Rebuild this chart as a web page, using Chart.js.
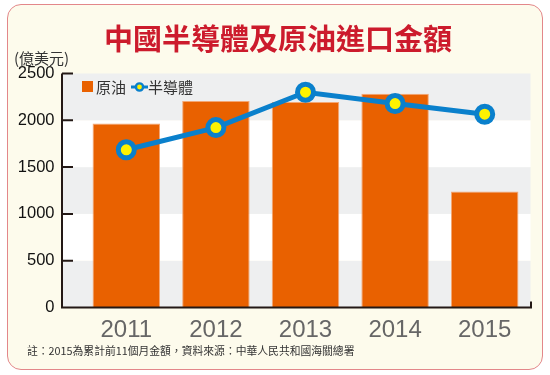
<!DOCTYPE html>
<html>
<head>
<meta charset="utf-8">
<script src="https://cdn.jsdelivr.net/npm/chart.js@4.4.0/dist/chart.umd.min.js"></script>
<style>
  html, body { margin: 0; padding: 0; background: #fff; }
  #wrap { position: relative; width: 550px; height: 375px; overflow: hidden; }
  #card {
    position: absolute; left: 7px; top: 4px; width: 536px; height: 366px;
    box-sizing: border-box; border: 1.5px solid #e3878a; border-radius: 14px;
    background: #fdfbec;
  }
  #chart { position: absolute; left: 0; top: 0; }
  .t { position: absolute; white-space: nowrap; font-family: "Noto Sans CJK TC", sans-serif; }
  #title { left: 0; width: 556px; top: 21px; text-align: center; font-size: 29px; line-height: 32px; font-weight: bold; color: #cc1b2c; }
  #unit { left: 14px; top: 49px; font-size: 15px; line-height: 17px; color: #333; }
  #note { left: 27px; top: 343px; font-size: 10.8px; line-height: 14px; color: #333; }
  .lg { font-size: 15px; line-height: 16px; color: #333; top: 79px; }
</style>
</head>
<body>
<div id="wrap">
  <div id="card"></div>
  <canvas id="chart" width="550" height="375"></canvas>
  <div id="title" class="t">中國半導體及原油進口金額</div>
  <div id="unit" class="t">(億美元)</div>
  <div style="position:absolute;left:82px;top:81px;width:11px;height:11px;background:#e96100"></div>
  <div class="t lg" style="left:96px">原油</div>
  <svg style="position:absolute;left:131px;top:81px" width="17" height="12">
    <line x1="0" y1="6" x2="17" y2="6" stroke="#0a80cc" stroke-width="3"/>
    <circle cx="8.5" cy="6" r="3.6" fill="#fff200" stroke="#0a80cc" stroke-width="2.4"/>
  </svg>
  <div class="t lg" style="left:148px">半導體</div>
  <div id="note" class="t">註：2015為累計前11個月金額，資料來源：中華人民共和國海關總署</div>
</div>
<script>
// values in 億美元
const years = ["2011", "2012", "2013", "2014", "2015"];
const crudeOil = [1967, 2205, 2196, 2283, 1238];
const semiconductors = [1685, 1922, 2300, 2179, 2065];
const yMin = 0;
const yMax = 2500;
const yStep = 500;

const AXIS_X = 62;

// alternating grey / white bands behind the bars
const bandsPlugin = {
  id: "bands",
  beforeDatasetsDraw(chart) {
    const { ctx, chartArea, scales } = chart;
    const y = scales.y;
    ctx.save();
    for (let v = yMin; v < yMax; v += yStep) {
      const top = y.getPixelForValue(v + yStep);
      const bottom = y.getPixelForValue(v);
      ctx.fillStyle = (v / yStep) % 2 === 0 ? "#eeeff0" : "#ffffff";
      ctx.fillRect(AXIS_X, top, chartArea.right + 1 - AXIS_X, bottom - top);
    }
    ctx.restore();
  }
};

// the black axis bracket with short inner ticks
const axisPlugin = {
  id: "axisLines",
  afterDatasetsDraw(chart) {
    const { ctx, chartArea, scales } = chart;
    const y = scales.y;
    const top = y.getPixelForValue(yMax);
    const bottom = y.getPixelForValue(yMin);
    const right = chartArea.right + 1.5;
    ctx.save();
    ctx.strokeStyle = "#231815";
    ctx.lineWidth = 2;
    ctx.beginPath();
    ctx.moveTo(AXIS_X, top);
    ctx.lineTo(AXIS_X, bottom);
    ctx.lineTo(right, bottom);
    ctx.lineTo(right, bottom - 6);
    y.ticks.forEach((t) => {
      if (t.value === yMin) return;
      const py = y.getPixelForValue(t.value);
      ctx.moveTo(AXIS_X, py);
      ctx.lineTo(AXIS_X + 11, py);
    });
    ctx.stroke();
    ctx.restore();
  }
};

new Chart(document.getElementById("chart"), {
  type: "bar",
  data: {
    labels: years,
    datasets: [
      {
        type: "line",
        label: "半導體",
        data: semiconductors,
        borderColor: "#0a80cc",
        borderWidth: 5,
        tension: 0,
        pointRadius: 8,
        pointHoverRadius: 8,
        pointBorderWidth: 5,
        pointBackgroundColor: "#fff200",
        pointBorderColor: "#0a80cc",
        order: 0
      },
      {
        type: "bar",
        label: "原油",
        data: crudeOil,
        backgroundColor: "#e96100",
        borderColor: "#f3a774",
        borderWidth: 1,
        barPercentage: 1,
        categoryPercentage: 0.753,
        order: 1
      }
    ]
  },
  options: {
    responsive: false,
    animation: false,
    events: [],
    layout: { padding: { left: 18.5, right: 20.5, top: 73.5, bottom: 27.5 } },
    plugins: {
      legend: { display: false },
      tooltip: { enabled: false }
    },
    scales: {
      x: {
        grid: { display: false, drawTicks: false },
        border: { display: false },
        ticks: {
          color: "#666",
          padding: 8,
          font: { family: "Liberation Sans", size: 24 }
        },
        afterFit: (s) => { s.height = 40; }
      },
      y: {
        min: yMin,
        max: yMax,
        grid: { display: false, drawTicks: false },
        border: { display: false },
        ticks: {
          stepSize: yStep,
          color: "#111",
          padding: 27,
          font: { family: "Liberation Sans", size: 16.5 },
          callback: (v) => String(v)
        },
        afterFit: (s) => { s.width = 63; }
      }
    }
  },
  plugins: [bandsPlugin, axisPlugin]
});
</script>
</body>
</html>
